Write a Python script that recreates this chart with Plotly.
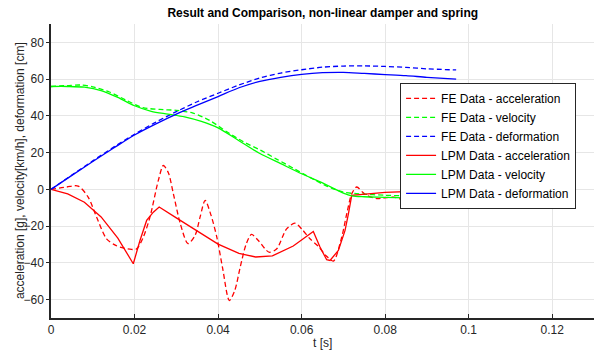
import plotly.graph_objects as go

# ---- data ----
t_fe_acc = [0, 0.0038, 0.0065, 0.0089, 0.0109, 0.0133, 0.0155, 0.0175, 0.0193, 0.0205, 0.0221, 0.0237,
            0.0257, 0.0269, 0.0281, 0.0293, 0.031, 0.0328, 0.0345, 0.0357, 0.0369, 0.0383, 0.0397, 0.0411,
            0.0427, 0.044, 0.0453, 0.0467, 0.048, 0.0497, 0.0522, 0.054, 0.0564, 0.0584, 0.0602, 0.062,
            0.064, 0.0658, 0.0676, 0.0696, 0.0708, 0.072, 0.0732, 0.0746, 0.0756, 0.078, 0.082, 0.0864,
            0.0888, 0.0911, 0.0935, 0.097]
fe_acc = [0, 1.3, 1.8, -4.2, -15, -26.9, -30.5, -32, -32.7, -32.4, -26, -15,
          4.9, 13, 9, -2.4, -19, -29.5, -25, -15, -6, -14, -26, -43,
          -60.5, -55, -42.3, -30, -24.5, -28, -34.2, -32.5, -21.5, -18.4, -22, -26.9,
          -31, -36, -39, -26, -13.3, -2.4, 1.3, -1.5, -3.3, -5, -4.2, -7.3,
          -6, -3.3, -1.5, -0.5]

t_fe_vel = [0, 0.004, 0.007, 0.01, 0.014, 0.018, 0.022, 0.026, 0.03, 0.034, 0.038, 0.042, 0.046, 0.05,
            0.054, 0.058, 0.062, 0.066, 0.07, 0.074, 0.08, 0.085, 0.09, 0.097]
fe_vel = [56, 56.5, 56.8, 55.8, 53, 48.5, 44.5, 43.5, 43, 41.5, 37.5, 31.5, 26, 21.5,
          16.5, 11.5, 6.5, 1.8, -1.5, -2.5, -3.2, -3.5, -3.6, -3.5]

t_def = [0, 0.005, 0.01, 0.015, 0.02, 0.025, 0.03, 0.035, 0.04, 0.045, 0.05, 0.055, 0.06, 0.065,
         0.07, 0.075, 0.08, 0.085, 0.09, 0.097]
fe_def = [0, 7.8, 15.5, 23, 30, 36.5, 42.3, 47.7, 52.3, 56.8, 60.6, 63.3, 65.1, 66.5,
          67.1, 67.2, 66.9, 66.4, 65.6, 65]
lpm_def = [0, 7.6, 15.2, 22.5, 29.6, 35.5, 41, 45.8, 50.5, 55.3, 58.8, 61, 62.6, 63.5,
           63.7, 63.1, 62.5, 61.9, 61, 60]

t_lpm_acc = [0, 0.004, 0.008, 0.012, 0.016, 0.0197, 0.0213, 0.0229, 0.0245, 0.0259, 0.03, 0.035, 0.04,
             0.045, 0.049, 0.053, 0.058, 0.0628, 0.0644, 0.066, 0.0668, 0.0688, 0.0704, 0.0712, 0.072,
             0.08, 0.09, 0.097]
lpm_acc = [0, -2.5, -7, -15, -26.5, -40.5, -27.8, -16.9, -12.4, -9.6, -15.5, -22.8, -29.8,
           -34.8, -36.8, -36.2, -30.8, -22.9, -31.4, -38.3, -38.7, -33.2, -22.3, -13.3, -3.3,
           -1.6, -0.7, -0.2]

t_lpm_vel = [0, 0.004, 0.008, 0.012, 0.016, 0.02, 0.024, 0.028, 0.032, 0.036, 0.04, 0.045, 0.05,
             0.055, 0.06, 0.065, 0.07, 0.072, 0.075, 0.08, 0.085, 0.09, 0.097]
lpm_vel = [56, 56, 55.6, 53.8, 50.1, 45.5, 42.5, 41, 39.5, 37, 33.5, 26.5, 19.5,
           14, 8.5, 3.5, -2, -3.5, -4, -4.3, -4.6, -4.9, -5]

x_ticks = [0, 0.02, 0.04, 0.06, 0.08, 0.1, 0.12]
x_tick_labels = ["0", "0.02", "0.04", "0.06", "0.08", "0.1", "0.12"]
y_ticks = [-60, -40, -20, 0, 20, 40, 60, 80]

RED, GREEN, BLUE = "#ff0000", "#00ff00", "#0000ff"
DASH = "5px,3px"

fig = go.Figure()
lw = 1.3
fig.add_trace(go.Scatter(x=t_fe_acc, y=fe_acc, mode="lines", name="FE Data - acceleration",
                         line=dict(color=RED, width=lw, dash=DASH, shape="spline", smoothing=0.8)))
fig.add_trace(go.Scatter(x=t_fe_vel, y=fe_vel, mode="lines", name="FE Data - velocity",
                         line=dict(color=GREEN, width=lw, dash=DASH, shape="spline", smoothing=0.8)))
fig.add_trace(go.Scatter(x=t_def, y=fe_def, mode="lines", name="FE Data - deformation",
                         line=dict(color=BLUE, width=lw, dash=DASH, shape="spline", smoothing=0.8)))
fig.add_trace(go.Scatter(x=t_lpm_acc, y=lpm_acc, mode="lines", name="LPM Data - acceleration",
                         line=dict(color=RED, width=lw)))
fig.add_trace(go.Scatter(x=t_lpm_vel, y=lpm_vel, mode="lines", name="LPM Data - velocity",
                         line=dict(color=GREEN, width=lw, shape="spline", smoothing=0.8)))
fig.add_trace(go.Scatter(x=t_def, y=lpm_def, mode="lines", name="LPM Data - deformation",
                         line=dict(color=BLUE, width=lw, shape="spline", smoothing=0.8)))

FONT = "Liberation Sans, Arial, sans-serif"
fig.update_layout(
    width=604, height=356,
    margin=dict(l=51, r=10, t=24, b=38),
    paper_bgcolor="white", plot_bgcolor="white",
    font=dict(family=FONT, size=12, color="#262626"),
    title=dict(text="<b>Result and Comparison, non-linear damper and spring</b>",
               x=0.5344, xanchor="center", y=0.965, yanchor="middle",
               font=dict(size=12, color="#000000")),
    showlegend=True,
    legend=dict(x=0.967, xanchor="right", y=0.80, yanchor="top",
                bgcolor="white", bordercolor="#262626", borderwidth=1,
                font=dict(size=12, color="#000000"), itemwidth=30,
                tracegroupgap=0),
    xaxis=dict(range=[0, 0.13], tickvals=x_ticks, ticktext=x_tick_labels, automargin=False,
               showgrid=True, gridcolor="#e6e6e6", gridwidth=1,
               showline=True, linecolor="#262626", linewidth=1.5,
               ticks="inside", ticklen=4, tickcolor="#262626", zeroline=False,
               tickfont=dict(size=12)),
    yaxis=dict(range=[-70, 90], tickvals=y_ticks, automargin=False,
               showgrid=True, gridcolor="#e6e6e6", gridwidth=1,
               showline=True, linecolor="#262626", linewidth=1.5,
               ticks="outside", ticklen=3, tickcolor="#262626", zeroline=False,
               tickfont=dict(size=12)),
    annotations=[
        dict(text="acceleration [g], velocity[km/h], deformation [cm]",
             xref="paper", yref="paper", x=-0.057, y=0.5, textangle=-90,
             xanchor="center", yanchor="middle", showarrow=False,
             font=dict(size=12, color="#262626")),
        dict(text="t [s]", xref="paper", yref="paper", x=0.5, y=-0.085,
             xanchor="center", yanchor="middle", showarrow=False,
             font=dict(size=12, color="#262626")),
    ],
)

fig.write_html("out.html",
               config={"displayModeBar": False},
               post_script="document.body.style.margin='0';document.body.style.overflow='hidden';")
